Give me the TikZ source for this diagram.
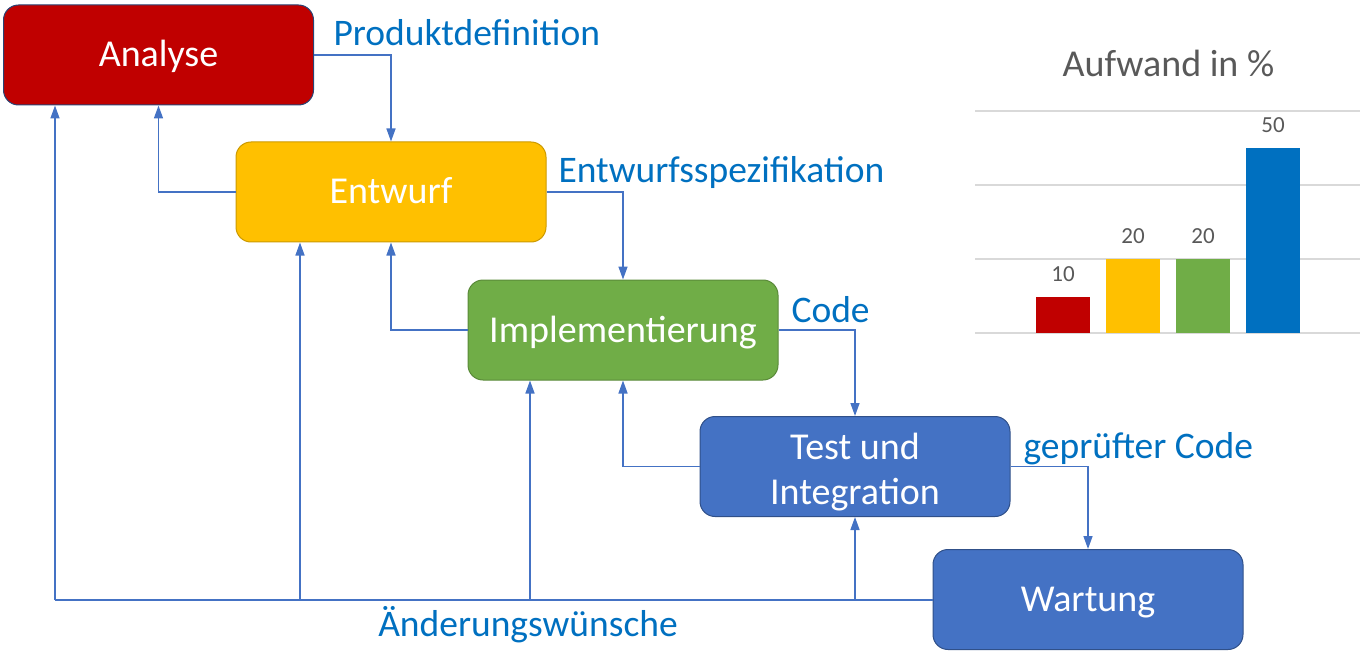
\documentclass[tikz,border=0pt]{standalone}
\usepackage{fontspec}
\setmainfont{Carlito}
\usetikzlibrary{arrows.meta,positioning}
\definecolor{rotana}{HTML}{C00000}
\definecolor{gelbent}{HTML}{FFC000}
\definecolor{gruenimp}{HTML}{70AD47}
\definecolor{blautest}{HTML}{4472C4}
\definecolor{blaulbl}{HTML}{0070C0}
\definecolor{grautxt}{HTML}{595959}
\definecolor{grauline}{HTML}{D9D9D9}

\begin{document}
\begin{tikzpicture}[x=1pt,y=-1pt,
  phase/.style={rectangle, rounded corners=15pt, minimum width=310pt, minimum height=100pt,
    text=white, align=center, line width=1pt, font=\fontsize{38}{45}\selectfont},
  einzeilig/.style={text height=32pt, text depth=8pt},
  lbl/.style={text=blaulbl, font=\fontsize{37.5}{40}\selectfont},
  fluss/.style={draw=blautest, line width=1.5pt, -{Triangle[length=13pt,width=9pt]}},
  wert/.style={text=grautxt, font=\fontsize{23}{26}\selectfont}]
\useasboundingbox (0,0) rectangle (1368,655);
% Phasen
\node[phase, einzeilig, fill=rotana, draw=blautest!60!black] (ana) at (158.5,55) {Analyse};
\node[phase, einzeilig, fill=gelbent, draw=gelbent!80!black] (ent) at (391,192) {Entwurf};
\node[phase, einzeilig, fill=gruenimp, draw=gruenimp!80!black] (impl) at (623,330) {Implementierung};
\node[phase, fill=blautest, draw=blautest!70!black] (test) at (855,466.5) {\rule{0pt}{38pt}Test und\\Integration};
\node[phase, einzeilig, fill=blautest, draw=blautest!70!black] (wart) at (1088,599.5) {Wartung};
% vorwaerts
\draw[fluss] (ana) -| (ent);
\draw[fluss] (ent) -| (impl);
\draw[fluss] (impl) -| (test);
\draw[fluss] (test) -| (wart);
% rueckwaerts
\draw[fluss] (ent) -| (ana);
\draw[fluss] (impl) -| (ent);
\draw[fluss] (test) -| (impl);
% Aenderungswuensche
\coordinate (rueck) at (55,600);
\draw[draw=blautest, line width=1.5pt] (wart.west |- rueck) -- (rueck);
\foreach \x/\n in {55/ana,300/ent,530/impl,855/test}{
  \coordinate (fuss\n) at (\x,600);
  \draw[fluss] (fuss\n) -- (fuss\n |- \n.south);
}
\node[lbl, right] (lprod) at (330,33) {Produktdefinition};
\node[lbl, right] (lspez) at (555,173) {Entwurfsspezifikation};
\node[lbl, right] (lcode) at (788,310) {Code};
\node[lbl, right] (lgep) at (1020,449) {geprüfter Code};
\node[lbl] (laend) at (528,625) {Änderungswünsche};
% Aufwand in %
\node[text=grautxt, font=\fontsize{38}{40}\selectfont] (titel) at (1168.5,63) {Aufwand in \%};
\foreach \y in {111,185,259,333}
  \draw[grauline, line width=1.5pt] (975,\y) -- (1360,\y);
\foreach \x/\h/\c/\v in {1036/36/rotana/10,1106/74/gelbent/20,1176/74/gruenimp/20,1246/185/blaulbl/50}{
  \fill[\c] (\x,333) rectangle ++(54,-\h);
  \node[wert, above] at (\x+27,333-\h-12) {\v};
}
\end{tikzpicture}
\end{document}
